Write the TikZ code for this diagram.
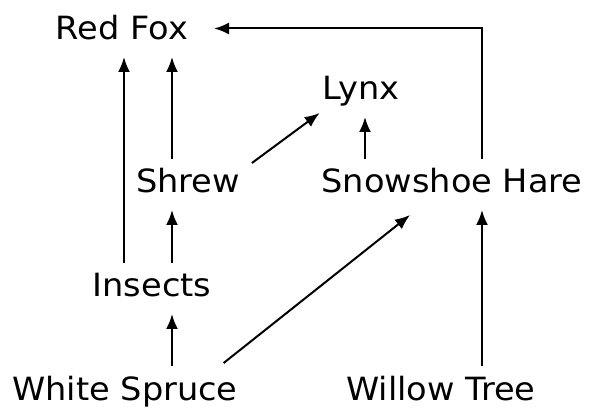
\documentclass[tikz,border=0pt]{standalone}
\usepackage{fontspec}
\setmainfont{DejaVu Sans}[FakeStretch=1.05]
\usepackage{tikz}
\usetikzlibrary{calc,arrows.meta}
\tikzstyle{species}=[anchor=base,inner sep=0pt,outer sep=11pt,
                     text height=23pt,text depth=6pt,
                     font=\fontsize{32}{38}\selectfont]
\tikzstyle{eats}=[line width=2pt,-{Latex[length=15pt,width=12pt]}]

\begin{document}
\begin{tikzpicture}[x=1pt,y=-1pt]
    \useasboundingbox (0,0) rectangle (590,409);
    \node [species] (RedFox) at (122,40) {Red Fox};
    \node [species] (Lynx) at (361,100) {Lynx};
    \node [species] (Shrew) at (188,193) {Shrew};
    \node [species] (Hare) at (452,193) {Snowshoe Hare};
    \node [species] (Insects) at (152,297) {Insects};
    \node [species] (Spruce) at (125,400) {White Spruce};
    \node [species] (Willow) at (441,400) {Willow Tree};

    \draw [eats] ([xshift=-28pt]Insects.north) -- ([xshift=-28pt]Insects.north |- RedFox.south);
    \draw [eats] ([xshift=-16pt]Shrew.north) -- ([xshift=-16pt]Shrew.north |- RedFox.south);
    \draw [eats] ([xshift=20pt]Insects.north) -- ([xshift=20pt]Insects.north |- Shrew.south);
    \draw [eats] ([xshift=47pt]Spruce.north) -- ([xshift=47pt]Spruce.north |- Insects.south);
    \draw [eats] ([shift={(1,4)}]Shrew.north east) -- ([shift={(8,-4)}]Lynx.south west);
    \draw [eats] ([xshift=4pt]Hare.north -| Lynx.south) -- ([xshift=4pt]Lynx.south);
    \draw [eats] ([shift={(-25,-3)}]Spruce.north east) -- ([shift={(-42,5)}]Hare.south);
    \draw [eats] ([xshift=41pt]Willow.north) -- ([xshift=41pt]Willow.north |- Hare.south);
    \draw [eats] ([xshift=30pt]Hare.north) |- ([shift={(15,-3)}]RedFox.east);
\end{tikzpicture}
\end{document}
